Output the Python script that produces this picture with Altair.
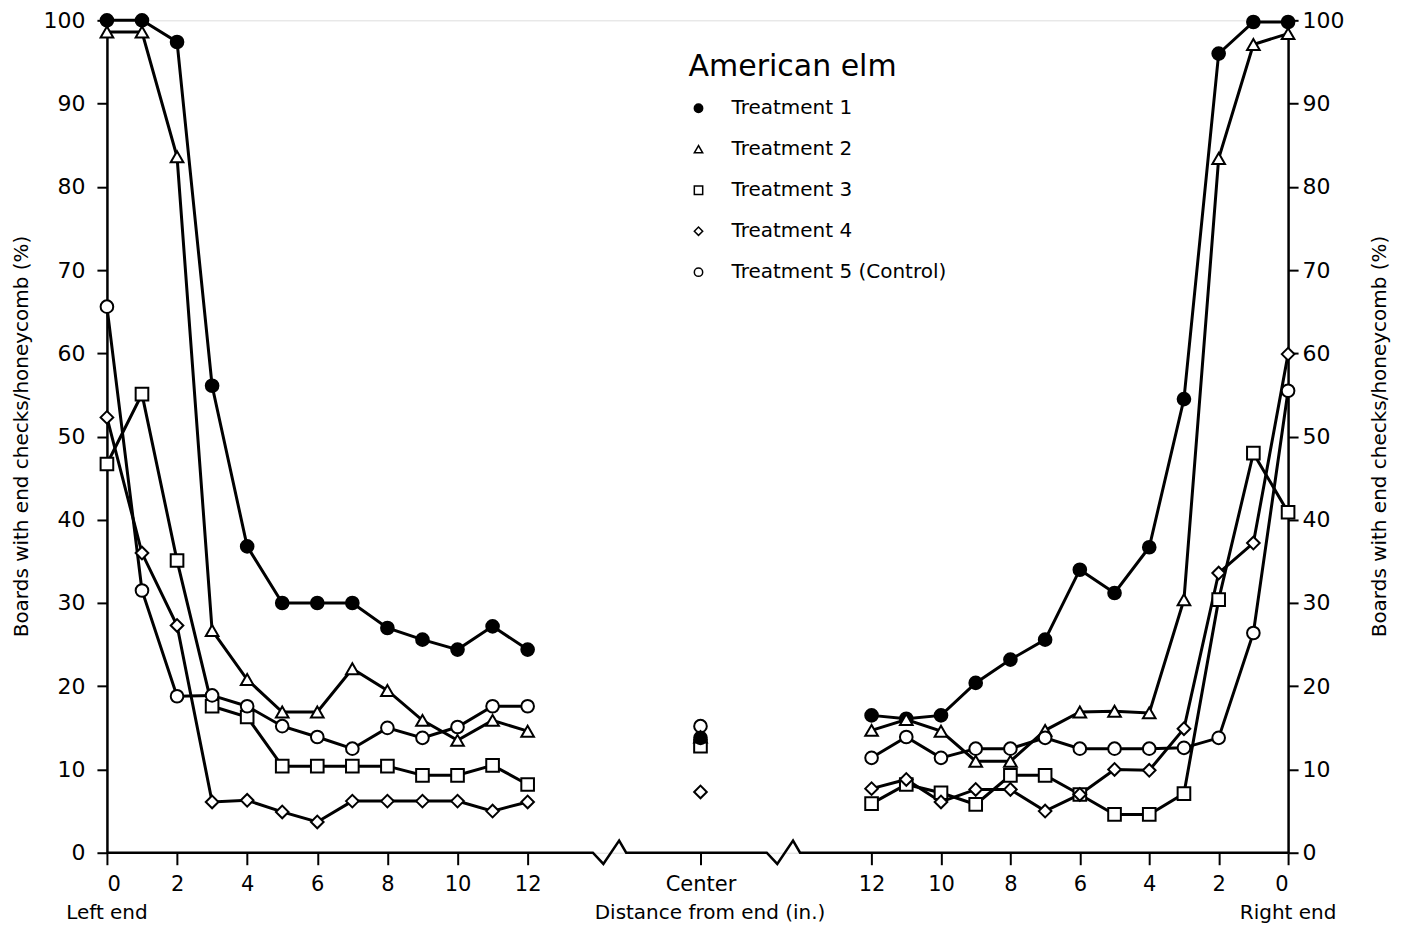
import altair as alt
import pandas as pd

# ---------------- data ----------------
series = ["Treatment 1", "Treatment 2", "Treatment 3", "Treatment 4", "Treatment 5 (Control)"]
distances = list(range(13))  # inches from the end, 0..12

t1_left = [100, 100, 97.4, 56.1, 36.8, 30.0, 30.0, 30.0, 27.0, 25.6, 24.4, 27.2, 24.4]
t2_left = [98.6, 98.6, 83.6, 26.7, 20.8, 16.9, 16.9, 22.1, 19.5, 15.9, 13.5, 15.9, 14.6]
t3_left = [46.7, 55.1, 35.1, 17.6, 16.3, 10.4, 10.4, 10.4, 10.4, 9.3, 9.3, 10.5, 8.2]
t4_left = [52.3, 36.0, 27.3, 6.1, 6.3, 4.9, 3.7, 6.2, 6.2, 6.2, 6.2, 5.0, 6.1]
t5_left = [65.6, 31.5, 18.8, 18.9, 17.6, 15.2, 13.9, 12.5, 15.0, 13.8, 15.1, 17.6, 17.6]

t1_right = [99.8, 99.8, 96.0, 54.5, 36.7, 31.2, 34.0, 25.6, 23.2, 20.4, 16.5, 16.1, 16.5]
t2_right = [98.4, 97.1, 83.4, 30.4, 16.8, 17.0, 16.9, 14.7, 11.0, 11.0, 14.6, 16.0, 14.7]
t3_right = [40.9, 48.0, 30.4, 7.1, 4.6, 4.6, 7.0, 9.3, 9.3, 5.8, 7.2, 8.2, 5.9]
t4_right = [59.9, 37.2, 33.6, 14.9, 9.9, 10.0, 7.0, 5.0, 7.6, 7.6, 6.1, 8.8, 7.7]
t5_right = [55.5, 26.4, 13.8, 12.6, 12.5, 12.5, 12.5, 13.8, 12.5, 12.5, 11.4, 13.9, 11.4]

center_values = [13.8, 13.9, 12.8, 7.3, 15.2]

left_values = [t1_left, t2_left, t3_left, t4_left, t5_left]
right_values = [t1_right, t2_right, t3_right, t4_right, t5_right]

x_tick_inches = [0, 2, 4, 6, 8, 10, 12]

# ---------------- layout of the broken x axis ----------------
CENTER_POS = 16.93
RIGHT_ZERO = 33.69
RIGHT_STEP = 0.99
X_MAX = 33.69
BREAKS = [13.86, 18.82]
ZIG_DX = [0, 0.3, 0.75, 0.95]
ZIG_DY = [0, -1.35, 1.45, 0]

rows = []
for s, lv, rv in zip(series, left_values, right_values):
    for d, v in zip(distances, lv):
        rows.append(dict(series=s, side="left", pos=d, value=v))
    for d, v in zip(distances, rv):
        rows.append(dict(series=s, side="right", pos=RIGHT_ZERO - d * RIGHT_STEP, value=v))
# center points: drawn in reverse order so Treatment 1 sits on top
for s, cv in reversed(list(zip(series, center_values))):
    rows.append(dict(series=s, side="center", pos=CENTER_POS, value=cv))
df = pd.DataFrame(rows)

base_pts = [(0.0, 0.0)]
for b in BREAKS:
    for dx, dy in zip(ZIG_DX, ZIG_DY):
        base_pts.append((b + dx, dy))
base_pts.append((X_MAX, 0.0))
baseline_df = pd.DataFrame({"pos": [p[0] for p in base_pts],
                            "value": [p[1] for p in base_pts],
                            "o": list(range(len(base_pts)))})

tick_positions = [float(d) for d in x_tick_inches] + [CENTER_POS] + \
                 [RIGHT_ZERO - d * RIGHT_STEP for d in sorted(x_tick_inches, reverse=True)]

end_labels = pd.DataFrame({"pos": [0.0, RIGHT_ZERO], "label": ["Left end", "Right end"]})

FONT = "DejaVu Sans"

label_expr = (
    f"datum.value < 13 ? format(datum.value, 'd') : "
    f"(datum.value < 20 ? 'Center' : format(round(({RIGHT_ZERO} - datum.value) / {RIGHT_STEP}), 'd'))"
)

X = alt.X(
    "pos:Q",
    scale=alt.Scale(domain=[0, X_MAX], nice=False, zero=False),
    axis=alt.Axis(
        values=tick_positions, labelExpr=label_expr, domain=False, grid=False,
        tickSize=12, tickWidth=2, tickColor="black", labelPadding=9,
        labelFontSize=21, labelFont=FONT, labelColor="black",
        title="Distance from end (in.)", titleFontSize=20, titleFont=FONT,
        titleFontWeight="normal", titleColor="black",
        titleX=603, titleY=60, titleBaseline="middle",
    ),
)

YSCALE = alt.Scale(domain=[0, 100], nice=False)
ytitle = "Boards with end checks/honeycomb (%)"

Y_left = alt.Y(
    "value:Q", scale=YSCALE,
    axis=alt.Axis(
        orient="left", values=list(range(0, 101, 10)), grid=False,
        domainColor="black", domainWidth=2.5, tickSize=10, tickWidth=2, tickColor="black",
        labelPadding=12, labelFontSize=22, labelFont=FONT, labelColor="black",
        title=ytitle, titleFontSize=20, titleFont=FONT, titleFontWeight="normal",
        titleColor="black", titleAngle=270, titleBaseline="middle", titleX=-85, titleY=416,
    ),
)
Y_right = alt.Y(
    "value:Q", scale=YSCALE,
    axis=alt.Axis(
        orient="right", values=list(range(0, 101, 10)), grid=False,
        domainColor="black", domainWidth=2.5, tickSize=10, tickWidth=2, tickColor="black",
        labelPadding=4, labelFontSize=22, labelFont=FONT, labelColor="black",
        title=ytitle, titleFontSize=20, titleFont=FONT, titleFontWeight="normal",
        titleColor="black", titleAngle=270, titleBaseline="middle", titleX=91, titleY=416,
    ),
)
Y_none = alt.Y("value:Q", scale=YSCALE, axis=None)

shape_range = ["circle", "triangle-up", "square", "diamond", "circle"]
fill_range = ["black", "white", "white", "white", "white"]
stroke_range = ["black", "black", "black", "black", "black"]

legend = alt.Legend(
    title="American elm", orient="none", legendX=582, legendY=32,
    titleFontSize=30, titleFont=FONT, titleFontWeight="normal", titleColor="black",
    titlePadding=16, titleLimit=0, labelLimit=0,
    labelFontSize=20, labelFont=FONT, labelColor="black",
    symbolSize=70, symbolStrokeWidth=1.5, symbolOpacity=1,
    rowPadding=21, labelOffset=23, padding=0,
)

lines = alt.Chart(df).transform_filter(alt.datum.side != "center").mark_line(
    color="black", strokeWidth=3
).encode(x=X, y=Y_left, detail=["series:N", "side:N"])

points = alt.Chart(df).mark_point(
    filled=True, strokeWidth=2, size=160, opacity=1
).encode(
    x=X, y=Y_right,
    shape=alt.Shape("series:N", scale=alt.Scale(domain=series, range=shape_range), legend=legend),
    fill=alt.Fill("series:N", scale=alt.Scale(domain=series, range=fill_range), legend=legend),
    stroke=alt.Stroke("series:N", scale=alt.Scale(domain=series, range=stroke_range), legend=legend),
)

baseline = alt.Chart(baseline_df).mark_line(color="black", strokeWidth=2.5, clip=False).encode(
    x=X, y=Y_none, order="o:Q"
)

ends = alt.Chart(end_labels).mark_text(
    font=FONT, fontSize=20, color="black", baseline="middle", align="center"
).encode(x=X, y=alt.value(893), text="label:N")

chart = alt.layer(baseline, lines, points, ends).resolve_axis(y="independent").properties(
    width=1182, height=833,
    autosize=alt.AutoSizeParams(type="none"),
    padding={"left": 99, "top": 12, "right": 110, "bottom": 71},
).configure_view(stroke=None).configure(background="white")

chart.save("out.html", embed_options={"renderer": "svg", "actions": False})
